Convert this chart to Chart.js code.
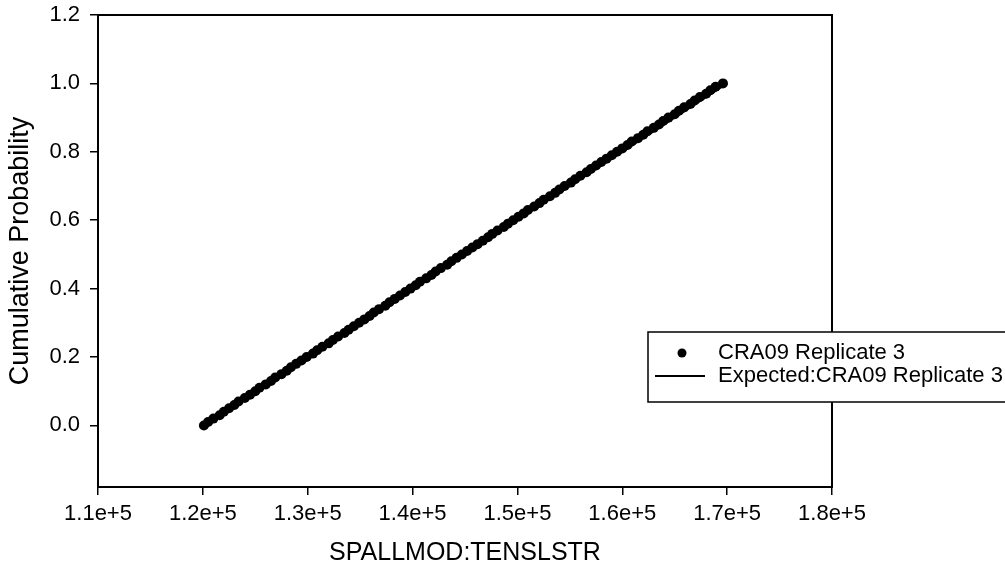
<!DOCTYPE html>
<html>
<head>
<meta charset="utf-8">
<script src="https://cdn.jsdelivr.net/npm/chart.js@4.4.1/dist/chart.umd.min.js"></script>
<style>
  html, body { margin: 0; padding: 0; background: #fff; }
  #wrap { width: 1005px; height: 573px; position: relative; }
</style>
</head>
<body>
<div id="wrap"><canvas id="cdf"></canvas></div>
<script>
/* global Chart */

// sample values (SPALLMOD:TENSLSTR)
const sampleX = [
  120100, 120500, 121000, 121600, 122000, 122500, 123000, 123400, 124000, 124500,
  125000, 125400, 126000, 126500, 126900, 127500, 128000, 128400, 128900, 129400,
  129900, 130500, 130900, 131400, 132000, 132400, 132900, 133500, 133900, 134400,
  134900, 135400, 135900, 136300, 136800, 137400, 137800, 138300, 138800, 139300,
  139800, 140300, 140700, 141300, 141800, 142200, 142700, 143300, 143700, 144200,
  144700, 145200, 145700, 146200, 146700, 147200, 147600, 148100, 148700, 149100,
  149600, 150100, 150600, 151000, 151600, 152100, 152500, 153100, 153600, 154000,
  154500, 155100, 155500, 156000, 156600, 157000, 157500, 158000, 158500, 159000,
  159500, 160000, 160500, 160900, 161500, 162000, 162400, 163000, 163500, 163900,
  164400, 165000, 165400, 165900, 166500, 166900, 167400, 168000, 168400, 168900,
  169600
];
const sampleY = [
  0.00, 0.01, 0.02, 0.03, 0.04, 0.05, 0.06, 0.07, 0.08, 0.09,
  0.10, 0.11, 0.12, 0.13, 0.14, 0.15, 0.16, 0.17, 0.18, 0.19,
  0.20, 0.21, 0.22, 0.23, 0.24, 0.25, 0.26, 0.27, 0.28, 0.29,
  0.30, 0.31, 0.32, 0.33, 0.34, 0.35, 0.36, 0.37, 0.38, 0.39,
  0.40, 0.41, 0.42, 0.43, 0.44, 0.45, 0.46, 0.47, 0.48, 0.49,
  0.50, 0.51, 0.52, 0.53, 0.54, 0.55, 0.56, 0.57, 0.58, 0.59,
  0.60, 0.61, 0.62, 0.63, 0.64, 0.65, 0.66, 0.67, 0.68, 0.69,
  0.70, 0.71, 0.72, 0.73, 0.74, 0.75, 0.76, 0.77, 0.78, 0.79,
  0.80, 0.81, 0.82, 0.83, 0.84, 0.85, 0.86, 0.87, 0.88, 0.89,
  0.90, 0.91, 0.92, 0.93, 0.94, 0.95, 0.96, 0.97, 0.98, 0.99,
  1.00
];

// expected (uniform) CDF end points
const expectedX = [120000, 170000];
const expectedY = [0, 1];

const xTicks = [110000, 120000, 130000, 140000, 150000, 160000, 170000, 180000];
const xTickLabels = ['1.1e+5', '1.2e+5', '1.3e+5', '1.4e+5', '1.5e+5', '1.6e+5', '1.7e+5', '1.8e+5'];
const yTicks = [0, 0.2, 0.4, 0.6, 0.8, 1.0, 1.2];
const yTickLabels = ['0.0', '0.2', '0.4', '0.6', '0.8', '1.0', '1.2'];

const seriesLabels = ['CRA09 Replicate 3', 'Expected:CRA09 Replicate 3'];

const FONT = '"Liberation Sans", Arial, sans-serif';

/* Frame around the plot area (all four sides) */
const frame = {
  id: 'frame',
  beforeDatasetsDraw(chart) {
    const { ctx, chartArea: a } = chart;
    ctx.save();
    ctx.strokeStyle = '#000';
    ctx.lineWidth = 2;
    ctx.strokeRect(a.left, a.top, a.right - a.left, a.bottom - a.top);
    ctx.restore();
  },
};

/* Legend box sitting over the right edge of the plot */
const boxLegend = {
  id: 'boxLegend',
  afterDraw(chart) {
    const { ctx } = chart;
    const x0 = 648, y0 = 332, y1 = 402;
    ctx.save();
    ctx.fillStyle = '#fff';
    ctx.fillRect(x0, y0, 1010 - x0, y1 - y0);
    ctx.strokeStyle = '#000';
    ctx.lineWidth = 1.5;
    ctx.strokeRect(x0, y0, 1010 - x0, y1 - y0);

    ctx.fillStyle = '#000';
    ctx.beginPath();
    ctx.arc(682, 353, 4.5, 0, Math.PI * 2);
    ctx.fill();

    ctx.lineWidth = 2;
    ctx.beginPath();
    ctx.moveTo(655, 376);
    ctx.lineTo(705, 376);
    ctx.stroke();

    ctx.font = '22px ' + FONT;
    ctx.textBaseline = 'middle';
    ctx.textAlign = 'left';
    ctx.fillText(seriesLabels[0], 718, 353);
    ctx.fillText(seriesLabels[1], 718, 376);
    ctx.restore();
  },
};

const samplePoints = sampleX.map((x, i) => ({ x, y: sampleY[i] }));
const expectedPoints = expectedX.map((x, i) => ({ x, y: expectedY[i] }));

new Chart(document.getElementById('cdf'), {
  type: 'scatter',
  data: {
    datasets: [
      {
        label: seriesLabels[1],
        data: expectedPoints,
        showLine: true,
        borderColor: '#000',
        borderWidth: 2,
        pointRadius: 0,
      },
      {
        label: seriesLabels[0],
        data: samplePoints,
        showLine: false,
        backgroundColor: '#000',
        borderWidth: 0,
        pointRadius: 5,
        pointHoverRadius: 5,
      },
    ],
  },
  options: {
    responsive: true,
    maintainAspectRatio: false,
    animation: false,
    layout: { padding: { left: 0, right: 173, top: 15, bottom: 0 } },
    plugins: { legend: { display: false }, tooltip: { enabled: false } },
    scales: {
      x: {
        type: 'linear',
        min: 110000,
        max: 180000,
        afterBuildTicks: (s) => { s.ticks = xTicks.map((v) => ({ value: v })); },
        afterFit: (s) => { s.height = 86; s.paddingLeft = 0; s.paddingRight = 0; },
        ticks: {
          color: '#000',
          font: { family: FONT, size: 22 },
          padding: 6,
          maxRotation: 0,
          callback: (v) => xTickLabels[xTicks.indexOf(v)],
        },
        grid: { drawOnChartArea: false, drawTicks: true, tickLength: 8, color: '#000', lineWidth: 1.5 },
        border: { display: false },
        title: {
          display: true,
          text: 'SPALLMOD:TENSLSTR',
          color: '#000',
          font: { family: FONT, size: 25 },
          padding: { top: 0, bottom: 5 },
        },
      },
      y: {
        type: 'linear',
        min: -0.18,
        max: 1.2,
        afterBuildTicks: (s) => { s.ticks = yTicks.map((v) => ({ value: v })); },
        afterFit: (s) => { s.width = 98; s.paddingTop = 0; s.paddingBottom = 0; },
        ticks: {
          color: '#000',
          font: { family: FONT, size: 22 },
          padding: 10,
          callback: (v) => yTickLabels[yTicks.indexOf(v)],
        },
        grid: { drawOnChartArea: false, drawTicks: true, tickLength: 8, color: '#000', lineWidth: 1.5 },
        border: { display: false },
        title: {
          display: true,
          text: 'Cumulative Probability',
          color: '#000',
          font: { family: FONT, size: 27 },
          padding: { top: 4, bottom: 0 },
        },
      },
    },
  },
  plugins: [frame, boxLegend],
});
</script>
</body>
</html>
